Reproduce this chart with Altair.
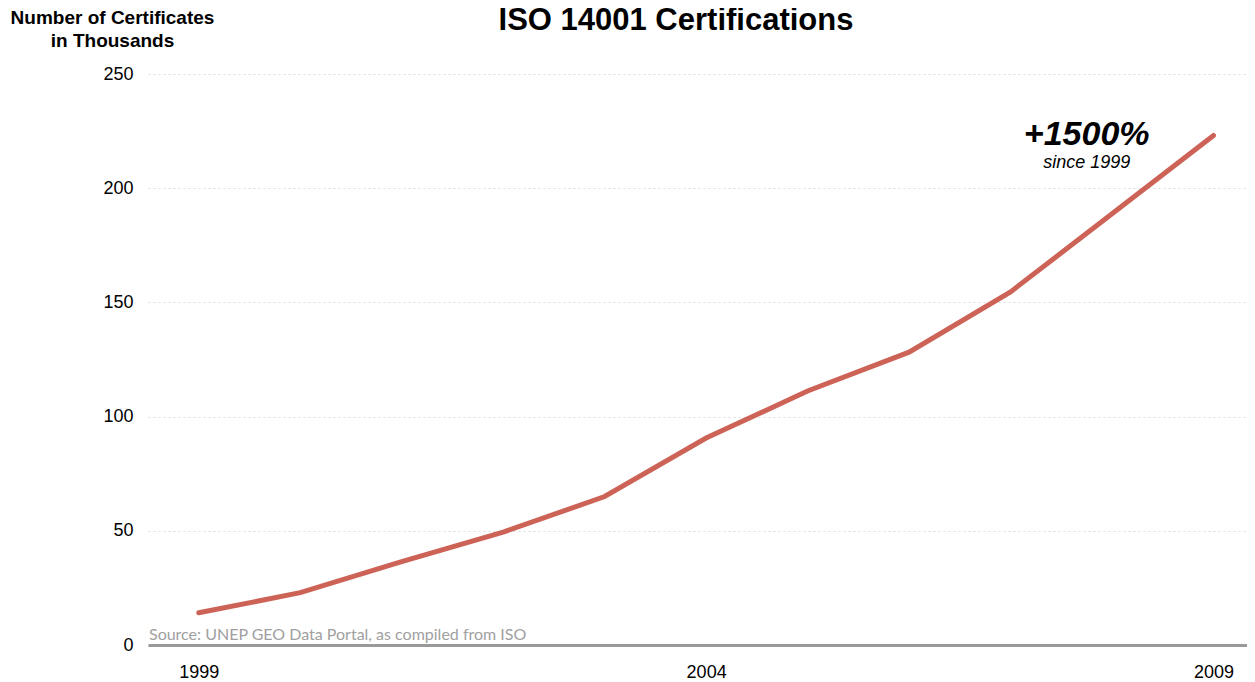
import altair as alt
import pandas as pd

years = [1999, 2000, 2001, 2002, 2003, 2004, 2005, 2006, 2007, 2008, 2009]
certs = [14.1, 22.9, 36.5, 49.4, 65.0, 90.6, 111.2, 128.2, 154.6, 188.8, 223.1]

ann_x = [2007.75, 2007.75]
ann_y = [223.5, 211]
ann_text = ["+1500%", "since 1999"]

title_text = "ISO 14001 Certifications"
ytitle_lines = ["Number of Certificates", "in Thousands"]
source_text = "Source: UNEP GEO Data Portal, as compiled from ISO"

df = pd.DataFrame({"year": years, "certs": certs})
big_df = pd.DataFrame({"x": ann_x[:1], "y": ann_y[:1], "t": ann_text[:1]})
small_df = pd.DataFrame({"x": ann_x[1:], "y": ann_y[1:], "t": ann_text[1:]})
src = pd.DataFrame({"x": [1998.5], "y": [0], "t": [source_text]})
ttl = pd.DataFrame({"t": [title_text]})

W, H = 1099, 571

xscale = alt.Scale(domain=[1998.5, 2009.33], nice=False, zero=False)
yscale = alt.Scale(domain=[0, 250], nice=False)

line = alt.Chart(df).mark_line(color="#cd6357", strokeWidth=5, strokeCap="round").encode(
    x=alt.X("year:Q", scale=xscale,
            axis=alt.Axis(values=[1999, 2004, 2009], format="d", title=None, grid=False,
                          ticks=False, domainColor="#999999", domainWidth=3,
                          labelFontSize=18, labelColor="#000000", labelPadding=18,
                          labelFont="Liberation Sans")),
    y=alt.Y("certs:Q", scale=yscale,
            axis=alt.Axis(values=[0, 50, 100, 150, 200, 250], domain=False, ticks=False,
                          gridDash=[2, 3], gridColor="#dddddd", gridWidth=1,
                          labelFontSize=18, labelColor="#000000", labelPadding=15,
                          labelFont="Liberation Sans",
                          title=ytitle_lines,
                          titleAngle=0, titleAlign="center", titleBaseline="alphabetic",
                          titleX=-36, titleY=-51, titleFontSize=19, titleFontWeight="bold",
                          titleFont="Liberation Sans", titleColor="#000000",
                          titleLineHeight=23)),
)

big = alt.Chart(big_df).mark_text(
    fontSize=34, fontWeight="bold", fontStyle="italic", font="Liberation Sans",
    color="#000000", align="center", baseline="middle"
).encode(x=alt.X("x:Q", scale=xscale), y=alt.Y("y:Q", scale=yscale), text="t:N")

small = alt.Chart(small_df).mark_text(
    fontSize=18, fontStyle="italic", font="Liberation Sans",
    color="#000000", align="center", baseline="middle"
).encode(x=alt.X("x:Q", scale=xscale), y=alt.Y("y:Q", scale=yscale), text="t:N")

source = alt.Chart(src).mark_text(
    fontSize=16, font="Lato", color="#a0a0a0", align="left",
    baseline="alphabetic", dx=1, dy=-5
).encode(x=alt.X("x:Q", scale=xscale), y=alt.Y("y:Q", scale=yscale), text="t:N")

title = alt.Chart(ttl).mark_text(
    fontSize=31, fontWeight="bold", font="Liberation Sans", color="#000000",
    align="center", baseline="alphabetic"
).encode(x=alt.value(528), y=alt.value(-44), text="t:N")

chart = alt.layer(line, big, small, source, title).properties(
    width=W, height=H,
    background="#ffffff",
    autosize=alt.AutoSizeParams(type="none"),
    padding={"left": 140, "top": 66, "right": 0, "bottom": 40},
).configure_view(strokeWidth=0, stroke=None)

chart.save("out.html", embed_options={"renderer": "svg", "actions": False})
